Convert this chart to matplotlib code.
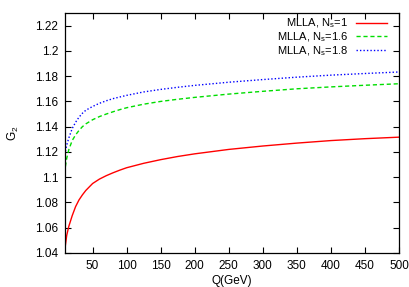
import matplotlib
matplotlib.use("Agg")
from matplotlib import pyplot as plt

plt.rcParams['font.family'] = ['Liberation Sans', 'DejaVu Sans']
plt.rcParams['mathtext.fontset'] = 'custom'
plt.rcParams['mathtext.rm'] = 'Liberation Sans'
plt.rcParams['mathtext.it'] = 'Liberation Sans'

# Q values (GeV) and G2
q = [10, 12, 15, 20, 25, 30, 35, 40, 50, 60, 70, 80, 90, 100,
     125, 150, 175, 200, 250, 300, 350, 400, 450, 500]
g2_ns1 = [1.046, 1.054, 1.061, 1.0695, 1.0767, 1.082, 1.086, 1.0895, 1.0950, 1.0985,
          1.1012, 1.1035, 1.1056, 1.1075, 1.1110, 1.1139, 1.1164, 1.1185, 1.1220,
          1.1247, 1.1270, 1.1290, 1.1305, 1.1317]
g2_ns16 = [1.1084, 1.115, 1.1217, 1.129, 1.1335, 1.137, 1.140, 1.1422, 1.1455, 1.148,
           1.150, 1.1518, 1.1535, 1.1550, 1.1578, 1.160, 1.1617, 1.1632, 1.1658,
           1.1680, 1.1700, 1.1715, 1.1728, 1.1740]
g2_ns18 = [1.1205, 1.1255, 1.131, 1.1385, 1.1435, 1.1475, 1.1506, 1.153, 1.1560, 1.1585,
           1.1605, 1.1622, 1.1635, 1.1648, 1.1675, 1.1695, 1.1712, 1.1727, 1.1752,
           1.1773, 1.1792, 1.1808, 1.1821, 1.1833]

xticks = [50, 100, 150, 200, 250, 300, 350, 400, 450, 500]
yticks = [1.04, 1.06, 1.08, 1.1, 1.12, 1.14, 1.16, 1.18, 1.2, 1.22]

fig = plt.figure(figsize=(4.09, 2.87), dpi=100)
ax = fig.add_axes([0.159, 0.1185, 0.8166, 0.8362])

ax.plot(q, g2_ns1, color='#ff0000', lw=1.0, label=r'MLLA, N$_\mathregular{s}$=1')
ax.plot(q, g2_ns16, color='#00dd00', lw=1.0, ls=(0, (3, 2)), label=r'MLLA, N$_\mathregular{s}$=1.6')
ax.plot(q, g2_ns18, color='#0000ff', lw=1.0, ls=(0, (1, 1.5)), label=r'MLLA, N$_\mathregular{s}$=1.8')

ax.set_xlim(9.5, 500)
ax.set_ylim(1.04, 1.23)
ax.set_xticks(xticks)
ax.set_xticklabels([str(t) for t in xticks])
ax.set_yticks(yticks)
ax.set_yticklabels(['%g' % t for t in yticks])
ax.tick_params(direction='in', top=True, right=True, labelsize=8.5, length=4, width=0.8, pad=5)
for s in ax.spines.values():
    s.set_linewidth(0.9)

ax.set_xlabel('Q(GeV)', fontsize=8.5, labelpad=2)
ax.set_ylabel(r'G$_\mathregular{2}$', fontsize=8.5, labelpad=10)

ax.legend(loc='upper right', frameon=False, fontsize=8, markerfirst=False,
          handlelength=2.8, handletextpad=0.7, labelspacing=0.0,
          borderaxespad=0.0, borderpad=0.35, bbox_to_anchor=(0.975, 1.0))

fig.savefig('out.png', dpi=100)
